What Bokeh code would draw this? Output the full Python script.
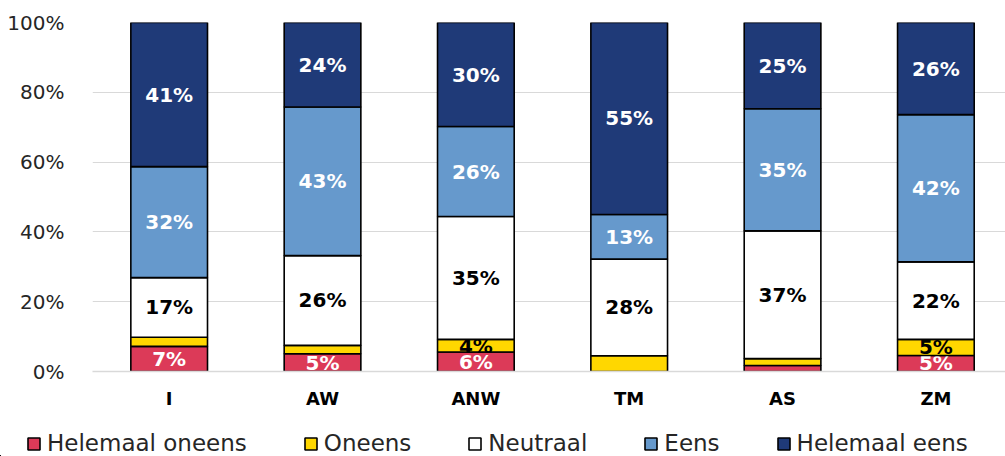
from bokeh.plotting import figure
from bokeh.models import Range1d, FixedTicker, Legend, LegendItem, ColumnDataSource
from bokeh.core.properties import value
from bokeh.embed import file_html
from bokeh.resources import INLINE

# ---- data (percent) ----
categories = ["I", "AW", "ANW", "TM", "AS", "ZM"]
series_names = ["Helemaal oneens", "Oneens", "Neutraal", "Eens", "Helemaal eens"]
helemaal_oneens = [7.2, 5.1, 5.6, 0.0, 1.7, 4.6]
oneens = [2.6, 2.4, 3.6, 4.5, 2.0, 4.6]
neutraal = [17.1, 25.7, 35.2, 27.7, 36.6, 22.2]
eens = [31.8, 42.6, 25.8, 12.8, 35.0, 42.2]
helemaal_eens = [41.3, 24.2, 29.8, 55.0, 24.7, 26.4]

labels_helemaal_oneens = ["7%", "5%", "6%", "", "", "5%"]
labels_oneens = ["", "", "4%", "", "", "5%"]
labels_neutraal = ["17%", "26%", "35%", "28%", "37%", "22%"]
labels_eens = ["32%", "43%", "26%", "13%", "35%", "42%"]
labels_helemaal_eens = ["41%", "24%", "30%", "55%", "25%", "26%"]

y_ticks = [0, 20, 40, 60, 80, 100]
y_tick_labels = ["0%", "20%", "40%", "60%", "80%", "100%"]

colors = ["#DC3A58", "#FFD700", "#FFFFFF", "#6699CC", "#1F3A78"]
label_colors = ["#FFFFFF", "#000000", "#000000", "#FFFFFF", "#FFFFFF"]

series = [helemaal_oneens, oneens, neutraal, eens, helemaal_eens]
series_labels = [labels_helemaal_oneens, labels_oneens, labels_neutraal,
                 labels_eens, labels_helemaal_eens]

FONT = "DejaVu Sans"

# ---- main chart ----
p = figure(width=1005, height=416,
           x_range=Range1d(-0.5, 5.454), y_range=Range1d(0, 100),
           min_border_left=92, min_border_right=0, min_border_top=22,
           min_border_bottom=45,
           output_backend="svg", toolbar_location=None)
p.outline_line_color = None
p.background_fill_color = "white"

# legend strip (separate root so it is not frame-aligned with the chart)
pl = figure(width=1005, height=40, x_range=Range1d(8, 9), y_range=Range1d(102, 103),
            min_border=0, x_axis_location=None, y_axis_location=None,
            output_backend="svg", toolbar_location=None)
pl.grid.visible = False
pl.outline_line_color = None

xs = list(range(len(categories)))
bottoms = [0.0] * len(categories)
items = []
for name, vals, labs, col, lcol in zip(series_names, series, series_labels, colors, label_colors):
    tops = [b + v for b, v in zip(bottoms, vals)]
    mids = [(b + t) / 2 for b, t in zip(bottoms, tops)]
    src = ColumnDataSource(dict(x=xs, bottom=bottoms, top=tops, mid=mids, lab=labs))
    p.vbar(x="x", bottom="bottom", top="top", width=0.5, source=src,
           fill_color=col, line_color="black", line_width=1.6)
    p.text(x="x", y="mid", text="lab", source=src, text_align="center",
           text_baseline="middle", text_color=lcol,
           text_font=value(FONT), text_font_style="bold", text_font_size="20px")
    # same series in the legend strip (its ranges keep the bars out of view)
    r = pl.vbar(x="x", bottom="bottom", top="top", width=0.5, source=src,
                fill_color=col, line_color="black", line_width=1.6)
    items.append(LegendItem(label=name, renderers=[r]))
    bottoms = tops

p.yaxis.ticker = FixedTicker(ticks=y_ticks)
p.yaxis.major_label_overrides = {t: l for t, l in zip(y_ticks, y_tick_labels)}
p.yaxis.axis_line_color = None
p.yaxis.major_tick_line_color = None
p.yaxis.minor_tick_line_color = None
p.yaxis.major_label_standoff = 22
p.yaxis.major_label_text_font = FONT
p.yaxis.major_label_text_font_size = "20px"
p.yaxis.major_label_text_color = "#262626"

p.xaxis.ticker = FixedTicker(ticks=xs)
p.xaxis.major_label_overrides = {i: c for i, c in zip(xs, categories)}
p.xaxis.axis_line_color = "#d9d9d9"
p.xaxis.axis_line_width = 1.5
p.xaxis.major_tick_line_color = None
p.xaxis.minor_tick_line_color = None
p.xaxis.major_label_standoff = 10
p.xaxis.major_label_text_font = FONT
p.xaxis.major_label_text_font_style = "bold"
p.xaxis.major_label_text_font_size = "18px"
p.xaxis.major_label_text_color = "#000000"

p.xgrid.visible = False
p.ygrid.ticker = FixedTicker(ticks=y_ticks)
p.ygrid.grid_line_color = "#d9d9d9"
p.ygrid.grid_line_width = 1

legend = Legend(items=items, orientation="horizontal", location=(26, 0),
                spacing=56, glyph_width=15, glyph_height=15, label_standoff=6,
                padding=0, margin=0, border_line_color=None,
                background_fill_alpha=0,
                label_text_font=FONT, label_text_font_size="23px",
                label_text_color="#262626")
pl.add_layout(legend)

open("out.html", "w").write(file_html([p, pl], INLINE))
